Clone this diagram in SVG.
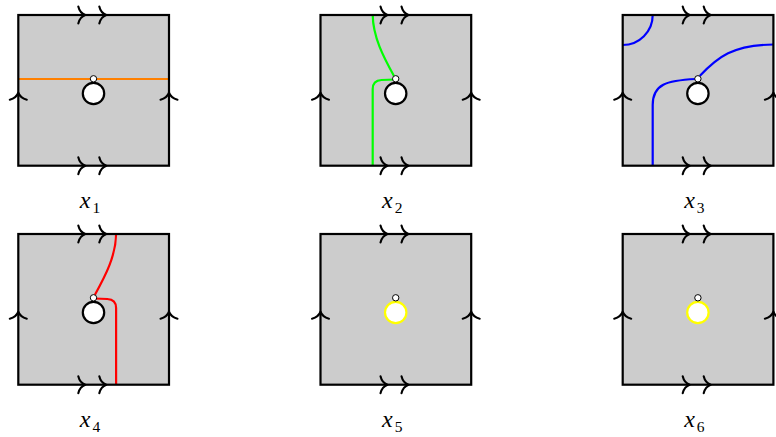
<svg xmlns="http://www.w3.org/2000/svg" xmlns:xlink="http://www.w3.org/1999/xlink" width="776" height="437" viewBox="0 0 776 437">
<style>
.arr{fill:none;stroke:#000;stroke-width:2.1;stroke-linecap:round;stroke-linejoin:round}
.hole{fill:#fff;stroke:#000;stroke-width:2.2}
.hole.y{stroke:#ffff00}
.pt{fill:#fff;stroke:#000;stroke-width:1}
.c{fill:none;stroke-width:2.2}
.lbl{font-family:"Liberation Serif","DejaVu Serif",serif;font-style:italic;font-size:24px}
.sub{font-style:normal;font-size:15.5px}
</style>
<defs>
<path id="ah" d="M-7,-8.5 C-6,-4.2 -2.8,-1 0,0 C-2.8,1 -6,4.2 -7,8.5"/>
<g id="arrows" class="arr">
<use xlink:href="#ah" href="#ah" transform="translate(67,0)"/>
<use xlink:href="#ah" href="#ah" transform="translate(88,0)"/>
<use xlink:href="#ah" href="#ah" transform="translate(67,150.7)"/>
<use xlink:href="#ah" href="#ah" transform="translate(88,150.7)"/>
<use xlink:href="#ah" href="#ah" transform="translate(0,77.7) rotate(-90)"/>
<use xlink:href="#ah" href="#ah" transform="translate(150.7,77.7) rotate(-90)"/>
</g>
</defs>

<g id="panel-x1" transform="translate(18.3,15)">
<rect x="0" y="0" width="150.7" height="150.7" fill="#cccccc"/>
<path class="c" stroke="#ff8000" d="M0,64 L150.7,64"/>
<rect x="0" y="0" width="150.7" height="150.7" fill="none" stroke="#000" stroke-width="2.2"/>
<use xlink:href="#arrows" href="#arrows"/>
<circle class="hole" cx="75.2" cy="78.5" r="10.7"/>
<circle class="pt" cx="75.2" cy="63.8" r="3.2"/>
<text class="lbl" x="61.5" y="192.7">x<tspan class="sub" dx="2" dy="5.5">1</tspan></text>
</g>

<g id="panel-x2" transform="translate(320.5,15)">
<rect x="0" y="0" width="150.7" height="150.7" fill="#cccccc"/>
<path class="c" stroke="#00ff00" d="M52.2,0 C52.5,22 63,42 73.5,61"/>
<path class="c" stroke="#00ff00" d="M74,64.5 L61,65 Q52.2,65.5 52.2,74 L52.2,150.7"/>
<rect x="0" y="0" width="150.7" height="150.7" fill="none" stroke="#000" stroke-width="2.2"/>
<use xlink:href="#arrows" href="#arrows"/>
<circle class="hole" cx="75.2" cy="78.5" r="10.7"/>
<circle class="pt" cx="75.2" cy="63.8" r="3.2"/>
<text class="lbl" x="61.5" y="192.7">x<tspan class="sub" dx="2" dy="5.5">2</tspan></text>
</g>

<g id="panel-x3" transform="translate(622.7,15)">
<rect x="0" y="0" width="150.7" height="150.7" fill="#cccccc"/>
<path class="c" stroke="#0000ff" d="M0,30 A30,30 0 0 0 30,0"/>
<path class="c" stroke="#0000ff" d="M30,150.7 L30,90 C30,69 44,65.5 73,64"/>
<path class="c" stroke="#0000ff" d="M77,61 C95,42 110,30 150.7,29.5"/>
<rect x="0" y="0" width="150.7" height="150.7" fill="none" stroke="#000" stroke-width="2.2"/>
<use xlink:href="#arrows" href="#arrows"/>
<circle class="hole" cx="75.2" cy="78.5" r="10.7"/>
<circle class="pt" cx="75.2" cy="63.8" r="3.2"/>
<text class="lbl" x="61.5" y="192.7">x<tspan class="sub" dx="2" dy="5.5">3</tspan></text>
</g>

<g id="panel-x4" transform="translate(18.3,234)">
<rect x="0" y="0" width="150.7" height="150.7" fill="#cccccc"/>
<path class="c" stroke="#ff0000" d="M97.8,0 C97.5,22 87,42 76.5,61"/>
<path class="c" stroke="#ff0000" d="M76,64.5 L89,65 Q97.8,65.5 97.8,74 L97.8,150.7"/>
<rect x="0" y="0" width="150.7" height="150.7" fill="none" stroke="#000" stroke-width="2.2"/>
<use xlink:href="#arrows" href="#arrows"/>
<circle class="hole" cx="75.2" cy="78.5" r="10.7"/>
<circle class="pt" cx="75.2" cy="63.8" r="3.2"/>
<text class="lbl" x="61.5" y="192.7">x<tspan class="sub" dx="2" dy="5.5">4</tspan></text>
</g>

<g id="panel-x5" transform="translate(320.5,234)">
<rect x="0" y="0" width="150.7" height="150.7" fill="#cccccc"/>
<rect x="0" y="0" width="150.7" height="150.7" fill="none" stroke="#000" stroke-width="2.2"/>
<use xlink:href="#arrows" href="#arrows"/>
<circle class="hole y" cx="75.2" cy="78.5" r="10.7"/>
<circle class="pt" cx="75.2" cy="63.8" r="3.2"/>
<text class="lbl" x="61.5" y="192.7">x<tspan class="sub" dx="2" dy="5.5">5</tspan></text>
</g>

<g id="panel-x6" transform="translate(622.7,234)">
<rect x="0" y="0" width="150.7" height="150.7" fill="#cccccc"/>
<rect x="0" y="0" width="150.7" height="150.7" fill="none" stroke="#000" stroke-width="2.2"/>
<use xlink:href="#arrows" href="#arrows"/>
<circle class="hole y" cx="75.2" cy="78.5" r="10.7"/>
<circle class="pt" cx="75.2" cy="63.8" r="3.2"/>
<text class="lbl" x="61.5" y="192.7">x<tspan class="sub" dx="2" dy="5.5">6</tspan></text>
</g>
</svg>
